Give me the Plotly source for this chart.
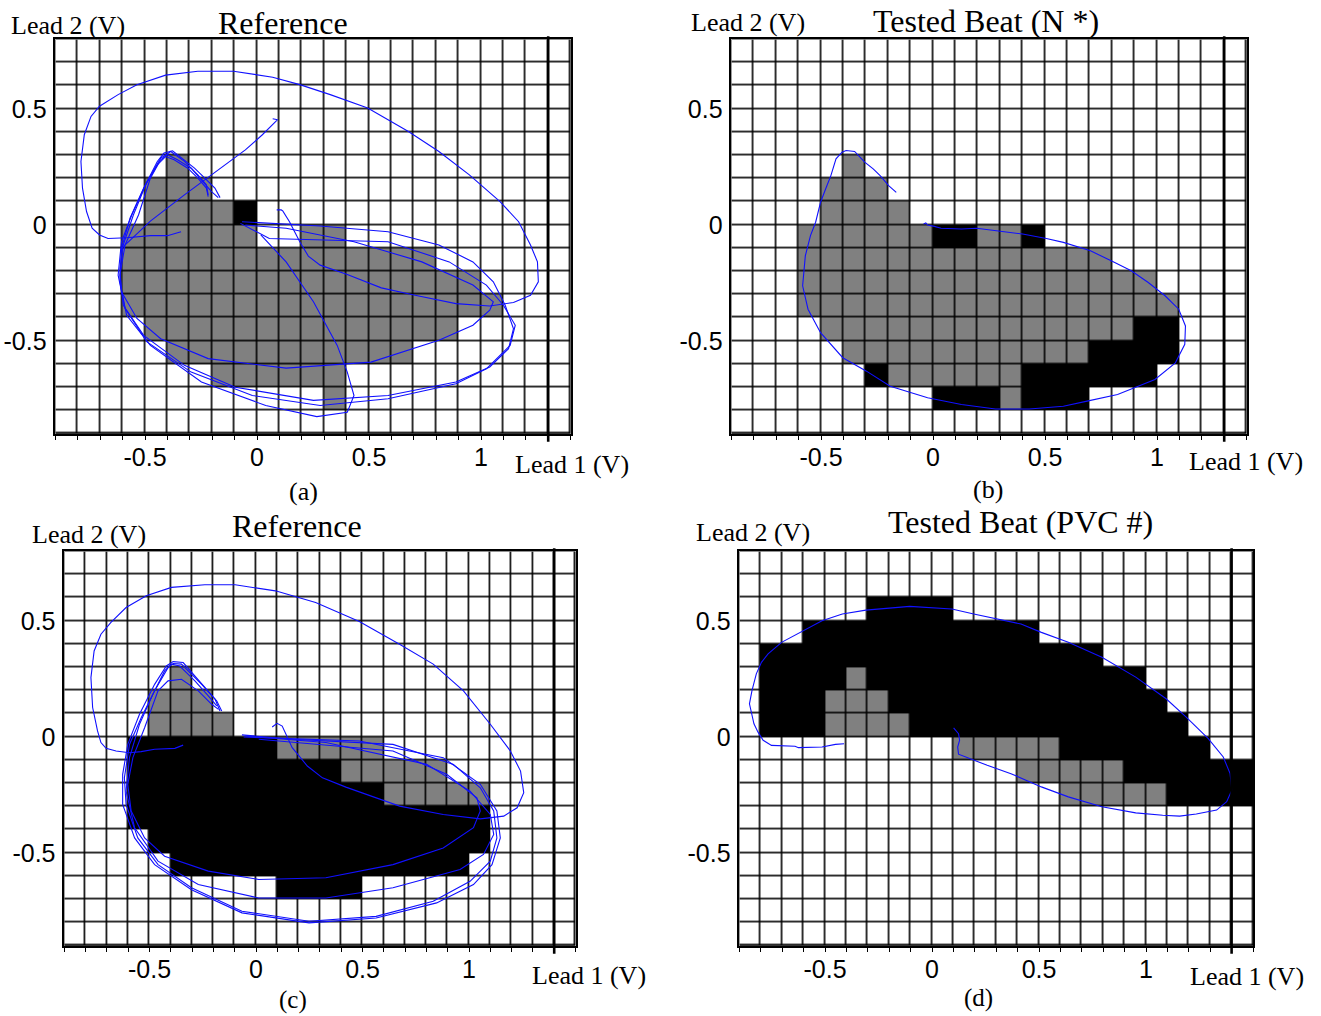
import plotly.graph_objects as go

W, H = 1321, 1016

# ---------------- data ----------------
x_tick_vals = [-0.5, 0, 0.5, 1]
x_tick_text = ["-0.5", "0", "0.5", "1"]
y_tick_vals = [-0.5, 0, 0.5]
y_tick_text = ["-0.5", "0", "0.5"]

cell = 0.1
y_lo, y_hi = -0.9, 0.8
x_lo = -0.9
x_hi_ab = 1.4
x_hi_cd = 1.5
thick_x = [1.3, 1.3, 1.4, 1.4]

# quantisation cells, runs of bins: (bin lower y, first bin left x, last bin left x)
ab_gray = [(0.2, -0.4, -0.4), (0.1, -0.5, -0.3), (0.0, -0.5, -0.2), (-0.1, -0.6, -0.1),
           (-0.1, 0.2, 0.3), (-0.2, -0.6, 0.7), (-0.3, -0.6, 0.9), (-0.4, -0.6, 1.0),
           (-0.5, -0.5, 0.8), (-0.6, -0.4, 0.6), (-0.7, -0.2, 0.3), (-0.8, 0.3, 0.3)]
a_black = [(0.0, -0.1, -0.1)]
b_black = [(-0.1, 0.0, 0.1), (-0.1, 0.4, 0.4), (-0.5, 0.9, 1.0), (-0.6, 0.7, 1.0),
           (-0.7, -0.3, -0.3), (-0.7, 0.4, 0.9), (-0.8, 0.0, 0.2), (-0.8, 0.4, 0.6)]
cd_gray = [(0.2, -0.4, -0.4), (0.1, -0.5, -0.3), (0.0, -0.5, -0.2), (-0.1, 0.1, 0.5),
           (-0.2, 0.4, 0.8), (-0.3, 0.6, 1.0)]
c_black = [(-0.1, -0.6, 0.0), (-0.2, -0.6, 0.3), (-0.3, -0.6, 0.5), (-0.4, -0.6, 1.0),
           (-0.5, -0.5, 1.0), (-0.6, -0.4, 0.9), (-0.7, 0.1, 0.4)]
d_black = [(0.5, -0.3, 0.0), (0.4, -0.6, 0.4), (0.3, -0.8, 0.7), (0.2, -0.8, 0.9),
           (0.1, -0.8, 1.0), (0.0, -0.8, 1.1), (-0.1, 0.6, 1.2), (-0.2, 0.9, 1.4),
           (-0.3, 1.1, 1.4)]

# ---- vectorcardiogram traces (Lead 1 V, Lead 2 V) ----
a_big_x = [-0.339, -0.400, -0.476, -0.582, -0.665, -0.703, -0.736, -0.761, -0.779, -0.786, -0.771,
           -0.741, -0.703, -0.620, -0.536, -0.408, -0.264, -0.105, 0.070, 0.191, 0.327, 0.494,
           0.676, 0.812, 0.948, 1.085, 1.168, 1.221, 1.252, 1.256, 1.221, 1.145, 1.039, 0.888,
           0.706, 0.555, 0.403, 0.282, 0.229, 0.191, 0.145, 0.115, 0.108, 0.088]
a_big_y = [-0.029, -0.046, -0.046, -0.055, -0.058, -0.043, -0.014, 0.058, 0.159, 0.274, 0.389,
           0.468, 0.512, 0.562, 0.605, 0.646, 0.663, 0.663, 0.637, 0.605, 0.562, 0.504,
           0.403, 0.317, 0.216, 0.101, 0.014, -0.086, -0.159, -0.245, -0.303, -0.334, -0.349,
           -0.339, -0.303, -0.271, -0.213, -0.173, -0.134, -0.072, 0.014, 0.061, 0.065, 0.065]
a_diag_x = [-0.605, -0.476, -0.324, -0.203, -0.105, -0.052, 0.024, 0.092, 0.070]
a_diag_y = [-0.101, 0.017, 0.130, 0.216, 0.288, 0.324, 0.389, 0.454, 0.458]
a_l1_x = [-0.067, 0.282, 0.585, 0.812, 0.964, 1.055, 1.108, 1.145, 1.123, 1.039, 0.888, 0.585,
          0.252, -0.097, -0.324, -0.506, -0.597, -0.612, -0.589, -0.529, -0.476, -0.430, -0.400,
          -0.355, -0.294, -0.241, -0.203, -0.173]
a_l1_y = [0.014, -0.004, -0.029, -0.086, -0.159, -0.245, -0.346, -0.447, -0.533, -0.612, -0.677,
          -0.735, -0.756, -0.699, -0.605, -0.476, -0.346, -0.216, -0.086, 0.043, 0.202, 0.281,
          0.303, 0.281, 0.245, 0.187, 0.144, 0.118]
a_l2_x = [-0.052, 0.130, 0.433, 0.736, 0.964, 1.055, 1.039, 0.964, 0.812, 0.509, 0.130, -0.218,
          -0.430, -0.536, -0.605, -0.612, -0.597, -0.552, -0.491, -0.430, -0.385, -0.324, -0.264,
          -0.226, -0.218]
a_l2_y = [0.000, -0.014, -0.072, -0.159, -0.259, -0.331, -0.367, -0.432, -0.497, -0.591, -0.617,
          -0.576, -0.490, -0.403, -0.288, -0.187, -0.086, 0.043, 0.187, 0.288, 0.317, 0.274,
          0.216, 0.173, 0.130]
a_l3_x = [0.017, 0.130, 0.252, 0.358, 0.403, 0.433, 0.403, 0.267, 0.039, -0.248, -0.476, -0.582,
          -0.612, -0.605, -0.567, -0.506, -0.445, -0.408, -0.370, -0.309, -0.264, -0.226, -0.218]
a_l3_y = [-0.043, -0.159, -0.331, -0.519, -0.634, -0.735, -0.807, -0.826, -0.778, -0.677, -0.519,
          -0.389, -0.245, -0.101, 0.029, 0.159, 0.259, 0.295, 0.281, 0.245, 0.202, 0.159, 0.122]
a_l4_x = [-0.074, 0.055, 0.585, 0.858, 1.024, 1.100, 1.153, 1.130, 1.024, 0.888, 0.585, 0.282,
          -0.021, -0.294, -0.491, -0.589, -0.620, -0.605, -0.559, -0.498, -0.445, -0.415, -0.377,
          -0.324, -0.279, -0.233, -0.188, -0.165]
a_l4_y = [0.007, -0.058, -0.072, -0.159, -0.259, -0.346, -0.432, -0.519, -0.620, -0.684, -0.749,
          -0.778, -0.735, -0.634, -0.504, -0.360, -0.216, -0.072, 0.043, 0.173, 0.274, 0.310,
          0.320, 0.281, 0.245, 0.202, 0.159, 0.118]

b_x = [-0.164, -0.198, -0.236, -0.267, -0.305, -0.350, -0.388, -0.406, -0.433, -0.456, -0.479,
       -0.502, -0.524, -0.547, -0.570, -0.582, -0.558, -0.502, -0.403, -0.297, -0.191, -0.024,
       0.127, 0.279, 0.430, 0.582, 0.688, 0.824, 0.991, 1.082, 1.124, 1.127, 1.097, 1.036, 0.961,
       0.885, 0.809, 0.703, 0.582, 0.506, 0.400, 0.279, 0.195, 0.127, 0.036, 0.006, -0.024,
       -0.032, -0.042]
b_y = [0.141, 0.170, 0.213, 0.242, 0.271, 0.317, 0.321, 0.314, 0.285, 0.213, 0.156, 0.098, 0.012,
       -0.046, -0.133, -0.262, -0.363, -0.464, -0.572, -0.630, -0.695, -0.745, -0.774, -0.793,
       -0.793, -0.781, -0.759, -0.731, -0.666, -0.594, -0.514, -0.435, -0.363, -0.305, -0.248,
       -0.197, -0.161, -0.111, -0.075, -0.058, -0.039, -0.024, -0.014, -0.017, -0.014, -0.006,
       0.000, 0.009, 0.004]

c_big_x = [-0.342, -0.381, -0.476, -0.539, -0.594, -0.657, -0.704, -0.728, -0.744, -0.767, -0.775,
           -0.760, -0.728, -0.681, -0.610, -0.515, -0.397, -0.240, -0.098, 0.091, 0.280, 0.485,
           0.674, 0.832, 0.974, 1.100, 1.194, 1.242, 1.257, 1.226, 1.163, 1.053, 0.879, 0.674,
           0.422, 0.312, 0.241, 0.170, 0.123, 0.099, 0.076]
c_big_y = [-0.035, -0.049, -0.053, -0.063, -0.068, -0.060, -0.049, -0.024, 0.026, 0.127, 0.256,
           0.371, 0.443, 0.494, 0.558, 0.609, 0.645, 0.656, 0.656, 0.630, 0.580, 0.498, 0.400,
           0.314, 0.199, 0.055, -0.060, -0.147, -0.240, -0.305, -0.341, -0.353, -0.334, -0.298,
           -0.216, -0.176, -0.125, -0.046, 0.047, 0.059, 0.043]
c_l1_x = [-0.066, 0.170, 0.643, 0.927, 1.053, 1.116, 1.131, 1.100, 1.005, 0.832, 0.564, 0.249,
          -0.066, -0.303, -0.460, -0.555, -0.610, -0.618, -0.594, -0.539, -0.476, -0.413, -0.389,
          -0.350, -0.303, -0.255, -0.192, -0.169]
c_l1_y = [0.009, -0.010, -0.032, -0.118, -0.219, -0.319, -0.435, -0.535, -0.622, -0.708, -0.773,
          -0.794, -0.751, -0.650, -0.550, -0.435, -0.291, -0.176, -0.032, 0.083, 0.199, 0.299,
          0.317, 0.314, 0.271, 0.227, 0.163, 0.112]
c_l2_x = [0.013, 0.643, 0.895, 1.037, 1.053, 1.021, 0.879, 0.643, 0.328, 0.013, -0.224, -0.429,
          -0.523, -0.586, -0.602, -0.578, -0.523, -0.460, -0.413, -0.350, -0.271, -0.208, -0.176]
c_l2_y = [-0.010, -0.060, -0.161, -0.262, -0.319, -0.391, -0.478, -0.550, -0.607, -0.614, -0.578,
          -0.514, -0.435, -0.319, -0.204, -0.089, 0.040, 0.199, 0.242, 0.249, 0.199, 0.141, 0.119]
c_l3_x = [-0.050, 0.328, 0.801, 1.005, 1.100, 1.116, 1.068, 0.958, 0.643, 0.328, 0.013, -0.271,
          -0.460, -0.570, -0.610, -0.594, -0.547, -0.484, -0.429, -0.397, -0.358, -0.287, -0.224,
          -0.184]
c_l3_y = [0.004, -0.024, -0.118, -0.233, -0.334, -0.420, -0.506, -0.571, -0.650, -0.694, -0.694,
          -0.636, -0.535, -0.391, -0.233, -0.089, 0.055, 0.184, 0.285, 0.314, 0.306, 0.242, 0.177,
          0.134]
c_l4_x = [-0.058, 0.485, 0.879, 1.053, 1.131, 1.147, 1.108, 1.021, 0.848, 0.564, 0.249, -0.066,
          -0.303, -0.476, -0.570, -0.626, -0.626, -0.602, -0.547, -0.476, -0.421, -0.389, -0.342,
          -0.287, -0.224, -0.184, -0.161]
c_l4_y = [0.000, -0.017, -0.089, -0.204, -0.319, -0.435, -0.550, -0.636, -0.715, -0.780, -0.801,
          -0.758, -0.658, -0.550, -0.435, -0.291, -0.161, -0.032, 0.098, 0.227, 0.306, 0.325,
          0.321, 0.263, 0.199, 0.155, 0.112]

d_x = [-0.411, -0.451, -0.514, -0.624, -0.640, -0.734, -0.750, -0.789, -0.813, -0.832, -0.853,
       -0.841, -0.821, -0.797, -0.766, -0.703, -0.600, -0.514, -0.419, -0.309, -0.104, 0.093,
       0.195, 0.306, 0.416, 0.511, 0.637, 0.794, 0.952, 1.094, 1.188, 1.291, 1.361, 1.393, 1.401,
       1.377, 1.330, 1.235, 1.157, 1.078, 0.952, 0.794, 0.637, 0.511, 0.369, 0.258, 0.164, 0.124,
       0.120, 0.129, 0.124, 0.101]
d_y = [-0.029, -0.032, -0.043, -0.046, -0.040, -0.039, -0.036, -0.014, 0.021, 0.057, 0.143,
       0.201, 0.272, 0.322, 0.358, 0.408, 0.458, 0.501, 0.530, 0.547, 0.563, 0.552, 0.530, 0.509,
       0.487, 0.451, 0.408, 0.344, 0.258, 0.165, 0.086, -0.007, -0.086, -0.158, -0.229, -0.279,
       -0.315, -0.332, -0.341, -0.337, -0.327, -0.301, -0.258, -0.215, -0.158, -0.122, -0.086,
       -0.074, -0.043, -0.014, 0.014, 0.039]

panels = [
    dict(name="a", x_hi=x_hi_ab, gray=ab_gray, black=a_black, thick=thick_x[0],
         curves=[(a_big_x, a_big_y), (a_diag_x, a_diag_y), (a_l1_x, a_l1_y), (a_l2_x, a_l2_y),
                 (a_l3_x, a_l3_y), (a_l4_x, a_l4_y)],
         px=(55.4, 570.6), py=(39.4, 433.8)),
    dict(name="b", x_hi=x_hi_ab, gray=ab_gray, black=b_black, thick=thick_x[1],
         curves=[(b_x, b_y)], px=(731.4, 1246.6), py=(39.4, 433.8)),
    dict(name="c", x_hi=x_hi_cd, gray=cd_gray, black=c_black, thick=thick_x[2],
         curves=[(c_big_x, c_big_y), (c_l1_x, c_l1_y), (c_l2_x, c_l2_y), (c_l3_x, c_l3_y),
                 (c_l4_x, c_l4_y)],
         px=(64.3, 575.5), py=(551.4, 945.8)),
    dict(name="d", x_hi=x_hi_cd, gray=cd_gray, black=d_black, thick=thick_x[3],
         curves=[(d_x, d_y)], px=(739.4, 1253.0), py=(551.4, 945.8)),
]

fig = go.Figure()
shapes = []
layout_axes = {}

for k, p in enumerate(panels):
    n = "" if k == 0 else str(k + 1)
    xa, ya = "x" + n, "y" + n
    ncol = int(round((p["x_hi"] - x_lo) / cell))
    nrow = int(round((y_hi - y_lo) / cell))
    z = [[0] * ncol for _ in range(nrow)]
    for val, runs in ((2, p["black"]), (1, p["gray"])):
        for yb, xa0, xa1 in runs:
            j = int(round((yb - y_lo) / cell))
            i0 = int(round((xa0 - x_lo) / cell))
            i1 = int(round((xa1 - x_lo) / cell))
            for i in range(i0, i1 + 1):
                z[j][i] = val
    xc = [x_lo + cell * (i + 0.5) for i in range(ncol)]
    yc = [y_lo + cell * (j + 0.5) for j in range(nrow)]
    fig.add_trace(go.Heatmap(
        x=xc, y=yc, z=z, zmin=0, zmax=2,
        colorscale=[[0, "white"], [0.5, "#808080"], [1, "black"]],
        showscale=False, xgap=1.6, ygap=1.6, hoverinfo="skip",
        xaxis=xa, yaxis=ya))
    for cx, cy in p["curves"]:
        fig.add_trace(go.Scatter(x=cx, y=cy, mode="lines",
                                 line=dict(color="#1010ff", width=1.1),
                                 xaxis=xa, yaxis=ya, hoverinfo="skip"))
    shapes.append(dict(type="line", xref=xa, yref=ya + " domain",
                       x0=p["thick"], x1=p["thick"], y0=-0.02, y1=1.008,
                       line=dict(color="black", width=2.6)))
    x0p, x1p = p["px"]
    y0p, y1p = p["py"]
    layout_axes["xaxis" + n] = dict(
        domain=[x0p / W, x1p / W], range=[x_lo, p["x_hi"]], anchor=ya,
        tickmode="array", tickvals=x_tick_vals, ticktext=x_tick_text,
        ticks="",
        minor=dict(dtick=cell, tick0=0, ticks="outside", ticklen=4, tickcolor="black", tickwidth=1.3),
        showgrid=False, zeroline=False, showline=True, mirror=True,
        linecolor="black", linewidth=1.6,
        tickfont=dict(family="Liberation Sans, Arial", size=25, color="black"),
        ticklabelstandoff=0, fixedrange=True)
    layout_axes["yaxis" + n] = dict(
        domain=[1 - y1p / H, 1 - y0p / H], range=[y_lo, y_hi], anchor=xa,
        tickmode="array", tickvals=y_tick_vals, ticktext=y_tick_text,
        ticks="", showgrid=False, zeroline=False, showline=True, mirror=True,
        linecolor="black", linewidth=1.6,
        tickfont=dict(family="Liberation Sans, Arial", size=25, color="black"),
        ticklabelstandoff=2, fixedrange=True)

labels = [
    ("Lead 2 (V)", 68, 25, 26), ("Reference", 283, 22, 32), ("Lead 1 (V)", 572, 463, 26), ("(a)", 303, 490, 26),
    ("Lead 2 (V)", 748, 22, 26), ("Tested Beat (N *)", 986, 20, 32), ("Lead 1 (V)", 1246, 460, 26), ("(b)", 988, 488, 26),
    ("Lead 2 (V)", 89, 533, 26), ("Reference", 297, 525, 32), ("Lead 1 (V)", 589, 974, 26), ("(c)", 293, 999, 25),
    ("Lead 2 (V)", 753, 531, 26), ("Tested Beat (PVC #)", 1020, 521, 32), ("Lead 1 (V)", 1247, 975, 26), ("(d)", 978, 997, 25),
]
annotations = [dict(text=t, x=px / W, y=1 - (py + 1) / H, xref="paper", yref="paper",
                    xanchor="center", yanchor="middle", showarrow=False,
                    font=dict(family="Liberation Serif, Times New Roman", size=s, color="black"))
               for t, px, py, s in labels]

fig.update_layout(
    width=W, height=H, margin=dict(l=0, r=0, t=0, b=0),
    paper_bgcolor="white", plot_bgcolor="black", showlegend=False,
    shapes=shapes, annotations=annotations, **layout_axes)

fig.write_html("out.html", config={"displayModeBar": False},
               post_script="document.body.style.margin='0';")
